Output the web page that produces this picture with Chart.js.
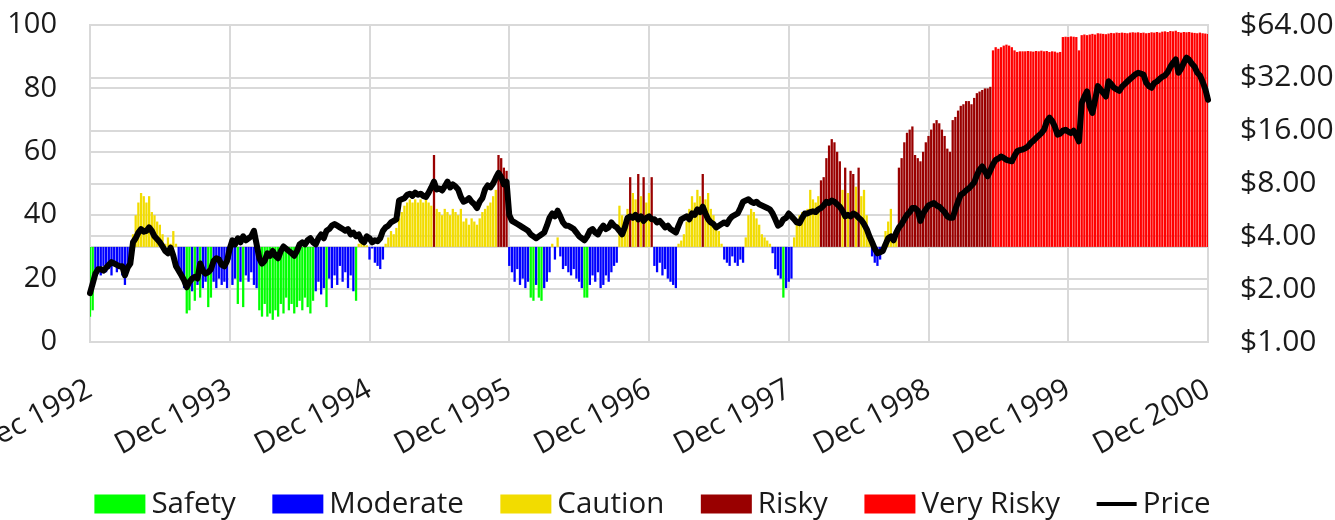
<!DOCTYPE html>
<html><head><meta charset="utf-8">
<script src="https://cdn.jsdelivr.net/npm/chart.js@4/dist/chart.umd.min.js"></script>
<style>html,body{margin:0;padding:0;background:#fff;}canvas{display:block}</style>
</head><body>
<canvas id="c" width="1335" height="520"></canvas>
<script>
// ---- tick labels ----
const yearLabels = ['Dec 1992','Dec 1993','Dec 1994','Dec 1995','Dec 1996','Dec 1997','Dec 1998','Dec 1999','Dec 2000'];
const leftTicks = [0,20,40,60,80,100];
const priceTicks = [1,2,4,8,16,32,64];
const zoneBase = 30;

// ---- weekly risk indicator (0-100) ----
const risk1993 = [8,10,22,23,21,24,22,23,21,24,22,23,21,18,22,25,34,40,44,47,46,44,46,41,40,38,37,34,31,33,31,35,31,22,20,17,9,10,16,13,18,14,17,19,11,14,19,17,20,18,19,17];
const risk1994 = [26,18,20,12,19,11,21,19,22,18,17,10,8,12,8,9,7,10,8,12,9,14,10,12,9,11,13,10,14,11,9,13,16,19,15,17,11,20,17,21,18,24,19,22,17,21,16,13,31,32,31,30.5];
const risk1995 = [26,29.5,25,24,23,26,31,33,35,34,36,39,41,43,44,45,44,45,44,45,44,45,44,43,59,42,41,40,42,41,40,42,41,40,42,38,39,37,39,38,37,39,41,42,43,44,46,48,59,58,55,54];
const risk1996 = [24,22,19,23,18,20,17,19,14,13,18,14,13,17,19,22,31,26,33,27,23,24,22,21,23,20,19,17,14,14,18,21,19,22,17,18,21,19,22,24,25,43,40,36,42,52,47,45,53,46,52,44];
const risk1997 = [47,52,24,22,25,21,23,20,19,18,17,31,32,34,38,42,46,44,48,46,53,45,47,42,40,37,35,31,26,25,24,27,25,24,26,25,33,40,42,41,39,37,34,33,32,31,28,23,21,20,14,17];
const risk1998 = [19,20,33,38,40,41,40,42,48,45,44,46,51,52,58,62,64,63,60,57,48,55,47,54,53,49,55,46,48,40,33,27,25,24,26,28,35,38,42,34,36,55,58,63,66,67,68,59,58,57,60,63];
const risk1999 = [65,67,69,70,69,67,65,61,60,70,71,73,74.5,75,76,76,75,77,78.5,79,79.5,80,80,80.5,92,93,92.5,93,93.5,93.8,93.5,93,92,91.5,91.7,91.7,91.7,91.8,91.7,91.6,91.8,91.7,91.9,91.7,91.8,91.5,91.7,91.6,91.3,91.5,96.2,96.3];
const risk2000 = [96.2,96.4,96.3,96.2,92,96.8,97,96.8,97,97.2,97,97.4,97.3,97.2,97.1,97.3,97.5,97.4,97.6,97.5,97.6,97.5,97.4,97.6,97.7,97.6,97.7,97.5,97.6,97.4,97.5,97.7,97.6,97.8,97.6,97.9,98,97.8,98.1,98,98.2,97.8,97.6,97.8,97.7,97.8,97.6,97.5,97.4,97.6,97.4,97.3,97.2];

// ---- weekly price ($) ----
const price1993 = [1.9,2.15,2.45,2.6,2.6,2.55,2.65,2.75,2.85,2.8,2.75,2.7,2.7,2.4,2.65,2.8,3.7,3.9,4.2,4.4,4.25,4.3,4.5,4.3,4.0,3.85,3.7,3.5,3.3,3.2,3.45,3.1,2.7,2.55,2.4,2.25,2.05,2.2,2.3,2.35,2.3,2.8,2.55,2.45,2.5,2.6,2.9,3.0,2.95,2.75,2.7,2.9];
const price1994 = [3.4,3.8,3.6,3.9,3.7,4.0,3.8,3.9,4.0,4.3,3.6,3.0,2.8,2.9,3.2,3.1,3.3,3.1,3.0,3.3,3.5,3.4,3.3,3.2,3.1,3.3,3.6,3.7,3.6,3.8,3.9,3.7,3.6,3.9,4.1,3.9,4.3,4.4,4.6,4.7,4.6,4.5,4.4,4.3,4.4,4.1,4.2,4.0,4.1,3.8,3.7,4.0];
const price1995 = [3.9,3.7,3.8,3.75,3.9,4.3,4.5,4.6,4.8,4.9,5.0,6.4,6.5,6.6,6.9,7.0,6.8,7.1,6.9,7.0,6.8,6.7,7.1,7.6,8.2,7.4,7.5,7.3,7.7,8.2,7.6,7.9,7.7,7.4,6.7,6.3,6.4,6.6,6.3,6.1,5.8,6.3,6.6,7.4,7.8,7.6,8.0,8.6,9.2,8.7,7.9,8.2];
const price1996 = [5.3,4.9,4.8,4.7,4.6,4.5,4.4,4.3,4.1,4.0,3.9,4.0,4.1,4.2,4.6,5.1,5.4,5.2,5.6,5.2,4.8,4.6,4.6,4.5,4.4,4.2,4.0,3.9,3.8,4.0,4.3,4.4,4.2,4.1,4.4,4.6,4.4,4.5,4.8,4.6,4.5,4.3,4.1,4.5,5.1,5.2,5.1,5.3,5.0,5.2,4.9,5.1];
const price1997 = [5.2,5.0,5.0,4.8,4.9,4.7,4.5,4.6,4.4,4.3,4.2,4.6,5.0,5.1,5.2,5.0,5.4,5.3,5.7,5.5,5.9,5.4,5.0,4.8,4.7,4.5,4.6,4.7,4.8,4.7,5.0,5.2,5.3,5.4,5.8,6.3,6.4,6.5,6.3,6.2,6.3,6.1,6.0,5.9,5.8,5.7,5.4,5.0,4.6,4.7,5.0,5.1];
const price1998 = [5.4,5.2,5.0,4.8,4.75,5.1,5.4,5.4,5.5,5.55,5.5,5.7,5.8,6.0,6.3,6.2,6.4,6.3,6.1,5.9,5.6,5.2,5.3,5.2,5.4,5.3,5.1,4.95,4.7,4.4,4.0,3.7,3.4,3.2,3.25,3.3,3.6,3.9,4.0,3.8,4.2,4.5,4.7,5.0,5.3,5.5,5.8,5.8,5.6,4.9,5.4,5.7];
const price1999 = [6.0,6.1,6.2,6.0,5.9,5.7,5.5,5.2,5.1,5.1,5.7,6.3,6.9,7.05,7.3,7.5,7.8,8.1,8.9,9.6,10.0,9.4,8.8,9.5,10.3,10.9,11.1,11.4,11.2,10.9,10.8,10.7,11.5,12.2,12.4,12.5,12.7,13.0,13.6,14.0,14.5,15.0,15.5,16.2,18.0,19.0,18.2,16.9,15.2,15.4,16.0,16.2];
const price2000 = [15.8,15.5,16.0,15.0,13.9,23,25,26.8,22,20.2,24,28.7,27.5,26.3,25.0,30.6,29.5,28.1,27.5,27.0,28.5,29.5,30.5,31.5,32.5,33.5,34.2,33.8,33.4,30,28.7,28.1,29.9,30.5,31.5,32.5,33,34.5,37,39,40.8,34.2,36,39,41.7,40.5,38.5,37,34.2,33,30.4,27.6,24];

const risk = [].concat(risk1993,risk1994,risk1995,risk1996,risk1997,risk1998,risk1999,risk2000);
const price = [].concat(price1993,price1994,price1995,price1996,price1997,price1998,price1999,price2000);
const weeks = risk.map((_, i) => i);
const weeksPerYear = 52;

const zones = [
  {label:'Safety',     color:'#00ff00', lo:-1, hi:15},
  {label:'Moderate',   color:'#0000ff', lo:15, hi:30},
  {label:'Caution',    color:'#f2dc00', lo:30, hi:50},
  {label:'Risky',      color:'#990000', lo:50, hi:85},
  {label:'Very Risky', color:'#ff0000', lo:85, hi:101}
];

const GRID = '#d9d9d9';
const FONT = "'Open Sans', 'Noto Sans', sans-serif";
const TXT = '#1a1a1a';

const baseLine = {
  id: 'baseLine',
  beforeDatasetsDraw(chart) {
    const {ctx, chartArea} = chart;
    const y = Math.round(chart.scales.y.getPixelForValue(zoneBase));
    ctx.save();
    ctx.strokeStyle = GRID; ctx.lineWidth = 2;
    ctx.beginPath(); ctx.moveTo(chartArea.left, y); ctx.lineTo(chartArea.right, y); ctx.stroke();
    ctx.restore();
  }
};

// legend drawn as a small plugin for precise spacing
const LEG = { centerX: 652.5, centerY: 504, boxW: 51, boxH: 19, lineW: 40, lineH: 4, textGap: 6, itemGap: 36.6, fontSize: 29.5 };
const bottomLegend = {
  id: 'bottomLegend',
  afterDraw(chart) {
    const ctx = chart.ctx;
    ctx.save();
    ctx.font = LEG.fontSize + 'px ' + FONT;
    ctx.textBaseline = 'middle';
    ctx.textAlign = 'left';
    const items = chart.data.datasets.map(d => ({
      label: d.label, isLine: d.type === 'line',
      color: d.type === 'line' ? d.borderColor : d.backgroundColor
    }));
    const widths = items.map(it => (it.isLine ? LEG.lineW : LEG.boxW) + LEG.textGap + ctx.measureText(it.label).width);
    const total = widths.reduce((a, b) => a + b, 0) + LEG.itemGap * (items.length - 1);
    let x = LEG.centerX - total / 2;
    items.forEach((it, i) => {
      ctx.fillStyle = it.color;
      if (it.isLine) {
        ctx.fillRect(x, LEG.centerY - LEG.lineH / 2, LEG.lineW, LEG.lineH);
      } else {
        ctx.fillRect(x, LEG.centerY - LEG.boxH / 2, LEG.boxW, LEG.boxH);
      }
      ctx.fillStyle = TXT;
      ctx.fillText(it.label, x + (it.isLine ? LEG.lineW : LEG.boxW) + LEG.textGap, LEG.centerY + 1);
      x += widths[i] + LEG.itemGap;
    });
    ctx.restore();
  }
};

const datasets = zones.map(z => ({
  type: 'bar',
  label: z.label,
  data: risk.map(v => (v >= z.lo && v < z.hi) ? [zoneBase, v] : null),
  backgroundColor: z.color,
  borderWidth: 0,
  grouped: false,
  barPercentage: 0.85,
  categoryPercentage: 1,
  yAxisID: 'y',
  order: 2
}));
datasets.push({
  type: 'line',
  label: 'Price',
  data: price,
  borderColor: '#000',
  backgroundColor: '#000',
  borderWidth: 6,
  pointRadius: 0,
  tension: 0,
  borderJoinStyle: 'round',
  borderCapStyle: 'round',
  yAxisID: 'y2',
  order: 1
});

new Chart(document.getElementById('c'), {
  data: { labels: weeks, datasets },
  plugins: [baseLine, bottomLegend],
  options: {
    responsive: false,
    animation: false,
    devicePixelRatio: 1,
    layout: { padding: { top: 25, left: 0, right: 0, bottom: 65 } },
    plugins: {
      tooltip: { enabled: false },
      legend: { display: false }
    },
    scales: {
      x: {
        type: 'category',
        offset: false,
        grid: { offset: false, drawTicks: false, lineWidth: 2,
          color: c => (c.index % weeksPerYear === 0) ? GRID : 'rgba(0,0,0,0)' },
        border: { color: GRID, width: 2 },
        ticks: {
          autoSkip: false, minRotation: 28, maxRotation: 28, padding: 30,
          color: TXT, font: { family: FONT, size: 29.5 },
          callback: (v, i) => (i % weeksPerYear === 0) ? yearLabels[i / weeksPerYear] : ''
        },
        afterFit: s => { s.height = 113; s.paddingLeft = 0; s.paddingRight = 0; }
      },
      y: {
        position: 'left', min: 0, max: 100,
        grid: { color: GRID, lineWidth: 2, drawTicks: false },
        border: { color: GRID, width: 2 },
        ticks: { padding: 33, color: TXT, font: { family: FONT, size: 29 } },
        afterBuildTicks: s => { s.ticks = leftTicks.map(v => ({ value: v })); },
        afterFit: s => { s.width = 90; s.paddingTop = 0; s.paddingBottom = 0; }
      },
      y2: {
        type: 'logarithmic', position: 'right', min: 1, max: 64,
        grid: { color: GRID, lineWidth: 2, drawTicks: false },
        border: { color: GRID, width: 2 },
        ticks: { padding: 32, color: TXT, font: { family: FONT, size: 30 },
          callback: v => '$' + Number(v).toFixed(2) },
        afterBuildTicks: s => { s.ticks = priceTicks.map(v => ({ value: v })); },
        afterFit: s => { s.width = 127; s.paddingTop = 0; s.paddingBottom = 0; }
      }
    }
  }
});
</script>
</body></html>
